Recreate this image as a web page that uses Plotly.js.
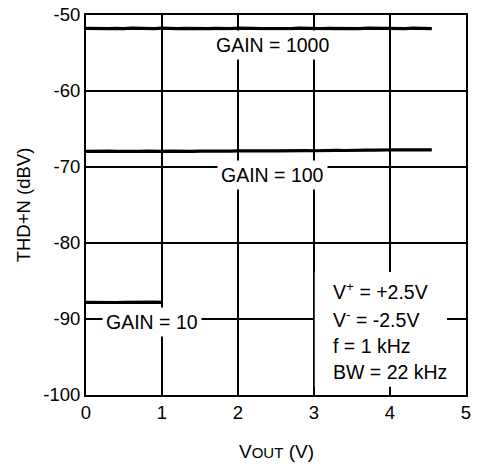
<!DOCTYPE html>
<html>
<head>
<meta charset="utf-8">
<script src="https://cdn.plot.ly/plotly-3.0.1.min.js"></script>
<style>body{margin:0;padding:0;background:#fff;}#chart{width:479px;height:469px;}</style>
</head>
<body>
<div id="chart"></div>
<script>
// Data
var xGain1000 = [0,0.1,0.2,0.3,0.4,0.5,0.6,0.7,0.8,0.9,1.0,1.1,1.2,1.3,1.4,1.5,1.6,1.7,1.8,1.9,2.0,2.1,2.2,2.3,2.4,2.5,2.6,2.7,2.8,2.9,3.0,3.1,3.2,3.3,3.4,3.5,3.6,3.7,3.8,3.9,4.0,4.1,4.2,4.3,4.4,4.5,4.55];
var yGain1000 = [-51.75,-51.78,-51.72,-51.78,-51.75,-51.8,-51.73,-51.78,-51.75,-51.78,-51.72,-51.78,-51.8,-51.75,-51.78,-51.72,-51.78,-51.75,-51.8,-51.78,-51.72,-51.78,-51.75,-51.78,-51.8,-51.72,-51.75,-51.78,-51.72,-51.78,-51.75,-51.8,-51.75,-51.78,-51.72,-51.75,-51.78,-51.72,-51.75,-51.78,-51.72,-51.75,-51.78,-51.72,-51.75,-51.75,-51.78];
var xGain100 = [0,0.1,0.2,0.3,0.4,0.5,0.6,0.7,0.8,0.9,1.0,1.1,1.2,1.3,1.4,1.5,1.6,1.7,1.8,1.9,2.0,2.1,2.2,2.3,2.4,2.5,2.6,2.7,2.8,2.9,3.0,3.1,3.2,3.3,3.4,3.5,3.6,3.7,3.8,3.9,4.0,4.1,4.2,4.3,4.4,4.5,4.55];
var yGain100 = [-67.95,-67.92,-67.97,-67.92,-67.95,-67.97,-67.92,-67.95,-67.92,-67.96,-67.94,-67.91,-67.94,-67.91,-67.95,-67.9,-67.92,-67.9,-67.87,-67.91,-67.89,-67.86,-67.89,-67.9,-67.86,-67.88,-67.85,-67.87,-67.83,-67.85,-67.86,-67.82,-67.84,-67.81,-67.83,-67.78,-67.8,-67.77,-67.79,-67.74,-67.76,-67.73,-67.75,-67.72,-67.72,-67.74,-67.74];
var xGain10 = [0,0.1,0.2,0.3,0.4,0.5,0.6,0.7,0.8,0.9,1.0,1.01];
var yGain10 = [-87.8,-87.83,-87.77,-87.8,-87.83,-87.8,-87.77,-87.83,-87.8,-87.77,-87.8,-87.8];

var xTicks = [0,1,2,3,4,5];
var yTicks = [-100,-90,-80,-70,-60,-50];

var curveLabels = [
  {text:'GAIN = 1000', x:2.45, y:-54.0},
  {text:'GAIN = 100',  x:2.45, y:-71.1},
  {text:'GAIN = 10',   x:0.87, y:-90.4}
];
var conditionLines = [
  {text:'V<sup>+</sup> = +2.5V', y:-86.3},
  {text:'V<sup>-</sup> = -2.5V', y:-90.0},
  {text:'f = 1 kHz', y:-93.5},
  {text:'BW = 22 kHz', y:-97.0}
];
var conditionsX = 3.23;
var xTitle = 'V<span style="font-size:15px">OUT</span> (V)';
var yTitle = 'THD+N (dBV)';

var font = 'Liberation Sans, Arial, sans-serif';
var lineStyle = {color:'#000', width:3.2};

var traces = [
  {x:xGain1000, y:yGain1000, mode:'lines', line:lineStyle, hoverinfo:'skip'},
  {x:xGain100, y:yGain100, mode:'lines', line:lineStyle, hoverinfo:'skip'},
  {x:xGain10, y:yGain10, mode:'lines', line:lineStyle, hoverinfo:'skip'}
];

var annotations = curveLabels.map(function(l){
  return {x:l.x, y:l.y, xref:'x', yref:'y', text:l.text, showarrow:false,
    font:{family:font, size:19.5, color:'#000'}, bgcolor:'#fff', borderpad:3,
    xanchor:'center', yanchor:'middle'};
});
conditionLines.forEach(function(l){
  annotations.push({x:conditionsX, y:l.y, xref:'x', yref:'y', text:l.text, showarrow:false,
    font:{family:font, size:19.5, color:'#000'}, xanchor:'left', yanchor:'middle'});
});
annotations.push({x:0.5, y:-0.148, xref:'paper', yref:'paper', text:xTitle, showarrow:false,
  font:{family:font, size:19, color:'#000'}, xanchor:'center', yanchor:'middle'});

var layout = {
  width:479, height:469,
  margin:{l:86, r:13, t:15, b:74},
  paper_bgcolor:'#fff', plot_bgcolor:'#fff',
  showlegend:false,
  font:{family:font, size:18, color:'#000'},
  xaxis:{
    range:[0,5], tickvals:xTicks, ticktext:xTicks.map(String),
    showgrid:true, gridcolor:'#000', gridwidth:1.5,
    zeroline:false, showline:true, linecolor:'#000', linewidth:2, mirror:true,
    ticks:'', ticklen:0,
    tickfont:{family:font, size:18.5, color:'#000'}
  },
  yaxis:{
    range:[-100,-50], tickvals:yTicks, ticktext:yTicks.map(String),
    showgrid:true, gridcolor:'#000', gridwidth:1.5,
    zeroline:false, showline:true, linecolor:'#000', linewidth:2, mirror:true,
    ticks:'', ticklen:0,
    tickfont:{family:font, size:18.5, color:'#000'},
    title:{text:yTitle, font:{family:font, size:18.5, color:'#000'}, standoff:8}
  },
  shapes:[{
    type:'rect', xref:'x', yref:'y', x0:3.01, x1:4.75, y0:-98.9, y1:-83.8,
    fillcolor:'#fff', line:{width:0}, layer:'above'
  }],
  annotations:annotations
};

Plotly.newPlot('chart', traces, layout, {staticPlot:true, displayModeBar:false});
</script>
</body>
</html>
